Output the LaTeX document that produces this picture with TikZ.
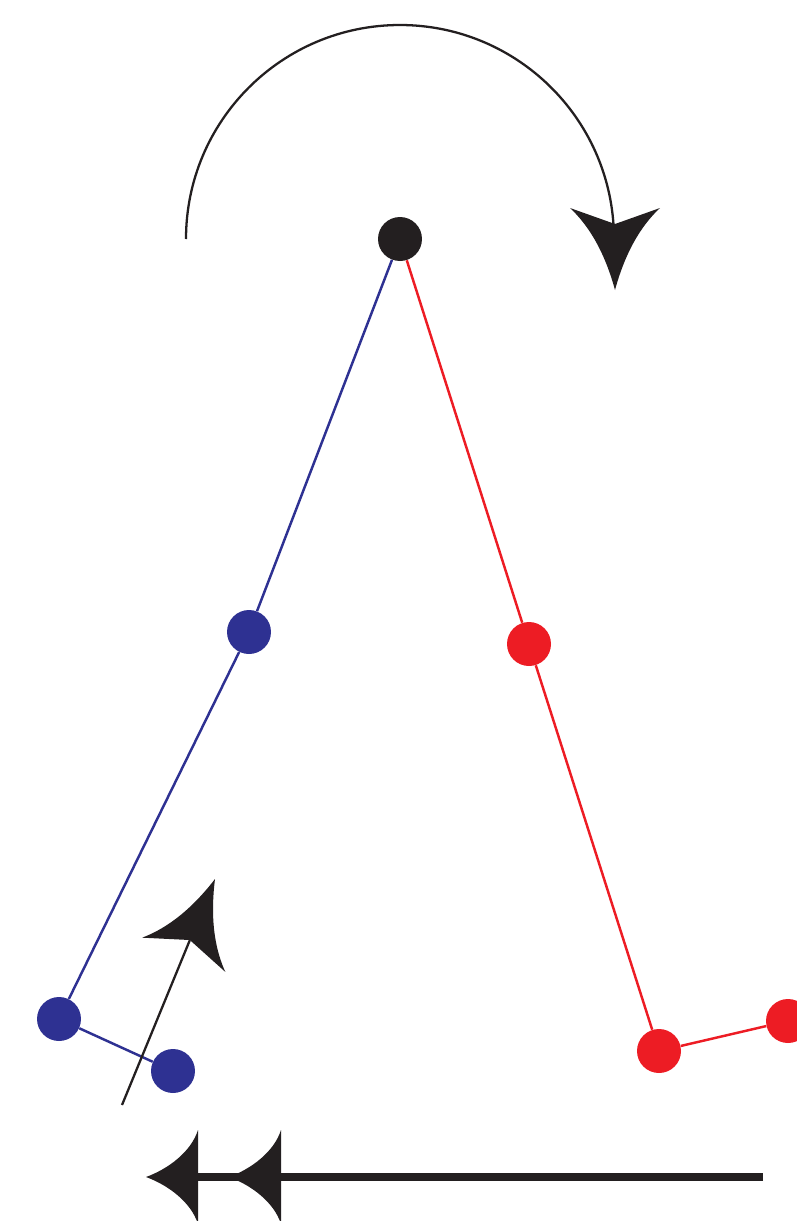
\documentclass[tikz,border=0pt]{standalone}
\usepackage{tikz}
\usetikzlibrary{calc}
\definecolor{inkblack}{HTML}{231F20}
\definecolor{pendblue}{HTML}{2E3192}
\definecolor{pendred}{HTML}{ED1C24}

\tikzset{
    notchhead/.pic={\fill[inkblack] (0,0) .. controls (-44,12) and (-68,30) .. (-82,45) -- (-66,0) -- (-82,-45) .. controls (-68,-30) and (-44,-12) .. (0,0) -- cycle;},
    flathead/.pic={\fill[inkblack] (0,0) .. controls (-22,8) and (-45,25) .. (-52,47) -- (-52,-47) .. controls (-45,-25) and (-22,-8) .. (0,0) -- cycle;}
}

\begin{document}
\begin{tikzpicture}[
    x=0.02cm, y=-0.02cm,
    mass/.style={circle, inner sep=0pt, minimum size=0.88cm},
    bluemass/.style={mass, fill=pendblue},
    redmass/.style={mass, fill=pendred},
    rod/.style={line width=1.4pt},
    thinarrow/.style={draw=inkblack, line width=1.3pt},
    fatarrow/.style={draw=inkblack, line width=4.6pt}
]
\useasboundingbox (0,0) rectangle (797,1221);

% --- PIVOT & MASSES ---
\node[mass, fill=inkblack] (pivot) at (400,239) {};
\node[bluemass] (b1) at (249,632) {};
\node[bluemass] (b2) at (59,1019) {};
\node[bluemass] (b3) at (173,1071) {};
\node[redmass] (r1) at (529,644) {};
\node[redmass] (r2) at (659,1051) {};
\node[redmass] (r3) at (788,1021) {};

% --- RODS ---
\draw[rod, pendblue] (pivot) -- (b1) -- (b2) -- (b3);
\draw[rod, pendred] (pivot) -- (r1) -- (r2) -- (r3);

% --- ROTATION ARROW ---
\coordinate (arcstart) at (186,239);
\coordinate (arctip) at (615,290);
\draw[thinarrow] (arcstart) arc[start angle=180, end angle=356.3, radius=214];
\pic[rotate=-90] at (arctip) {notchhead};

% --- SMALL ARROW ---
\coordinate (ktail) at (122,1105);
\coordinate (ktip) at (215,879);
\draw[thinarrow] (ktail) -- ($(ktip)!66/244!(ktail)$);
\pic[rotate=67.6] at (ktip) {notchhead};

% --- DOUBLE ARROW ---
\coordinate (dtail) at (763,1177);
\coordinate (dtipA) at (146,1177);
\coordinate (dtipB) at (229,1177);
\draw[fatarrow] (dtail) -- ($(dtipA)+(50,0)$);
\pic[rotate=180] at (dtipA) {flathead};
\pic[rotate=180] at (dtipB) {flathead};

\end{tikzpicture}
\end{document}
